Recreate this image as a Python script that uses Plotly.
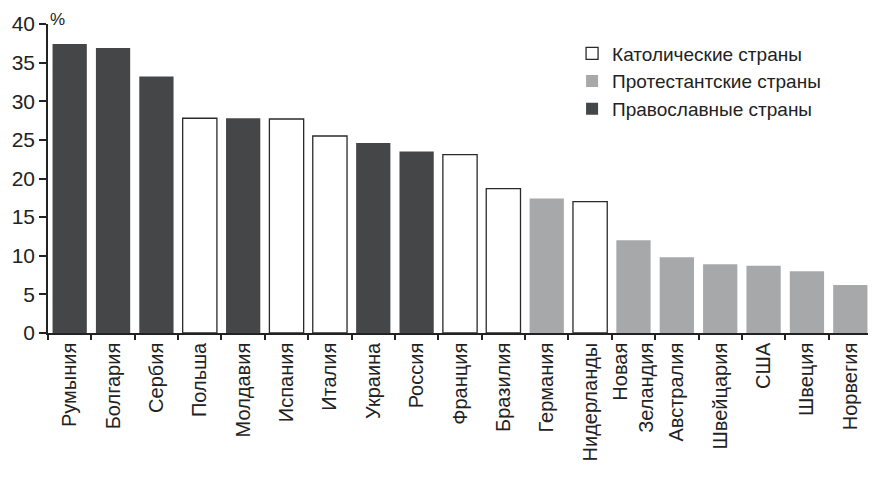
import plotly.graph_objects as go

countries = ["Румыния", "Болгария", "Сербия", "Польша", "Молдавия", "Испания", "Италия",
             "Украина", "Россия", "Франция", "Бразилия", "Германия", "Нидерланды",
             "Новая<br>Зеландия", "Австралия", "Швейцария", "США", "Швеция", "Норвегия"]
values = [37.4, 36.9, 33.2, 27.8, 27.8, 27.7, 25.5, 24.6, 23.5, 23.1, 18.7, 17.4, 17.0,
          12.0, 9.8, 8.9, 8.7, 8.0, 6.2]
groups = ["orth", "orth", "orth", "cath", "orth", "cath", "cath", "orth", "orth", "cath",
          "cath", "prot", "cath", "prot", "prot", "prot", "prot", "prot", "prot"]
group_names = {"cath": "Католические страны", "prot": "Протестантские страны",
               "orth": "Православные страны"}
y_ticks = [0, 5, 10, 15, 20, 25, 30, 35, 40]

styles = {
    "cath": dict(color="white", line=dict(color="#2a2a2a", width=1.3)),
    "prot": dict(color="#a7a8aa", line=dict(color="#a7a8aa", width=0)),
    "orth": dict(color="#454648", line=dict(color="#454648", width=0)),
}

fig = go.Figure()
for g in ["cath", "prot", "orth"]:
    xs = [c for c, gg in zip(countries, groups) if gg == g]
    ys = [v for v, gg in zip(values, groups) if gg == g]
    fig.add_trace(go.Bar(x=xs, y=ys, name=group_names[g], marker=styles[g], width=0.79))

font = "Liberation Sans, Arial, sans-serif"
fig.update_layout(
    width=868, height=469,
    margin=dict(l=35, r=4, t=15, b=144),
    paper_bgcolor="white", plot_bgcolor="white",
    barmode="overlay",
    font=dict(family=font, size=19, color="#222222"),
    showlegend=True,
    legend=dict(x=0.636, y=0.966, xanchor="left", yanchor="top",
                font=dict(size=19, color="#222222"), bgcolor="rgba(0,0,0,0)",
                tracegroupgap=0, itemwidth=30),
    xaxis=dict(type="category", categoryorder="array", categoryarray=countries,
               tickangle=-90, showline=True, linecolor="#222222", linewidth=1.5,
               ticks="outside", tickson="boundaries", ticklen=5, tickwidth=1.5,
               tickcolor="#222222", showgrid=False, tickfont=dict(size=20),
               range=[-0.5, len(countries) - 0.5]),
    yaxis=dict(range=[0, 40], tickvals=y_ticks, showline=True, linecolor="#222222",
               linewidth=1.5, ticks="outside", ticklen=7, tickwidth=1.5,
               tickcolor="#222222", showgrid=False, zeroline=False,
               tickfont=dict(size=21)),
    annotations=[dict(text="%", xref="paper", yref="paper", x=0.0, y=1.0,
                      xanchor="left", yanchor="top", xshift=0, yshift=16,
                      showarrow=False, font=dict(size=17))],
)

fig.write_html("out.html")
